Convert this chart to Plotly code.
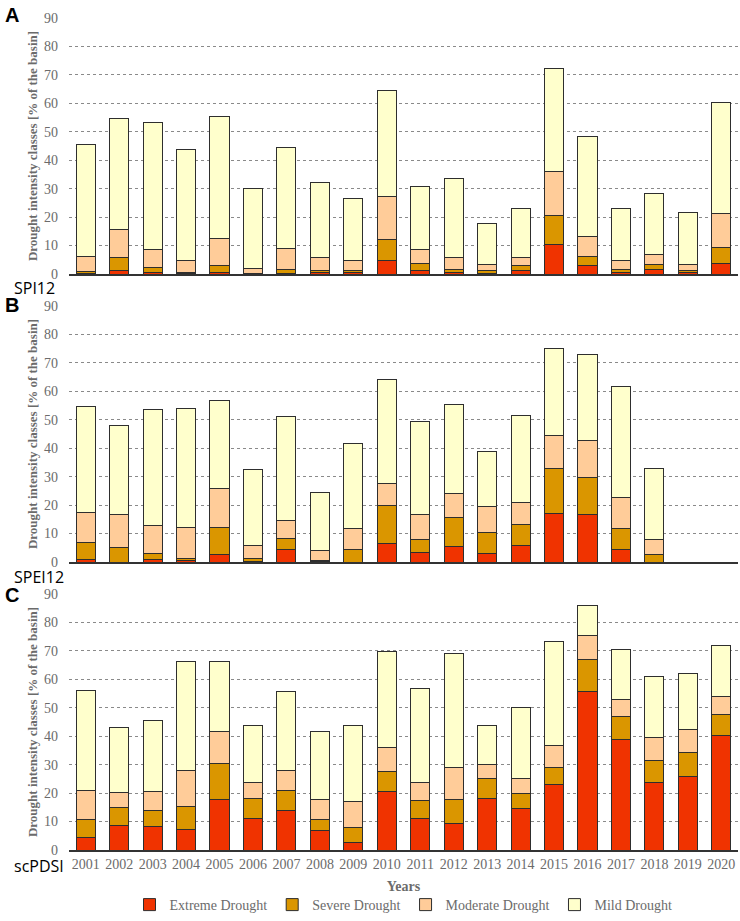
import plotly.graph_objects as go
from plotly.subplots import make_subplots

years = [str(y) for y in range(2001, 2021)]
classes = ["Extreme Drought", "Severe Drought", "Moderate Drought", "Mild Drought"]
colors = ["#F03300", "#DA9600", "#FFCC99", "#FFFFCC"]

# Panel A - SPI12
spi_extreme = [0.3, 1.1, 0.4, 0.2, 0.5, 0.1, 0.3, 0.4, 0.4, 4.8, 1.3, 0.4, 0.3, 1.1, 10.4, 3.1, 0.7, 1.6, 0.7, 3.8]
spi_severe = [0.7, 4.8, 1.9, 0.4, 2.6, 0.2, 1.3, 1.0, 1.0, 7.4, 2.5, 1.2, 1.0, 2.0, 10.1, 3.1, 0.9, 1.8, 0.6, 5.6]
spi_moderate = [5.1, 9.6, 6.2, 4.3, 9.5, 1.7, 7.2, 4.5, 3.2, 15.0, 4.7, 4.3, 2.1, 2.8, 15.7, 7.1, 3.1, 3.5, 2.1, 12.0]
spi_mild = [39.4, 39.3, 44.8, 38.9, 42.7, 28.2, 35.7, 26.1, 22.0, 37.4, 22.3, 27.8, 14.4, 17.0, 36.0, 34.9, 18.4, 21.3, 18.3, 38.9]

# Panel B - SPEI12 (no data for 2019, 2020)
spei_extreme = [0.8, 0.0, 0.8, 0.5, 2.6, 0.1, 4.3, 0.1, 0.0, 6.5, 3.2, 5.3, 2.9, 5.9, 17.0, 16.7, 4.5, 0.0, None, None]
spei_severe = [6.2, 5.0, 2.1, 0.7, 9.7, 1.1, 3.9, 0.4, 4.3, 13.2, 4.8, 10.3, 7.4, 7.4, 15.7, 13.0, 7.2, 2.6, None, None]
spei_moderate = [10.4, 11.8, 10.0, 10.9, 13.4, 4.6, 6.4, 3.7, 7.4, 7.8, 8.8, 8.6, 9.2, 7.7, 11.7, 13.0, 11.0, 5.4, None, None]
spei_mild = [37.2, 31.2, 40.7, 41.9, 31.0, 26.7, 36.5, 20.3, 29.8, 36.6, 32.5, 31.2, 19.3, 30.6, 30.5, 30.2, 38.9, 25.0, None, None]

# Panel C - scPDSI
pdsi_extreme = [4.5, 8.5, 8.2, 7.2, 17.7, 11.2, 13.9, 6.7, 2.8, 20.7, 11.2, 9.4, 18.0, 14.7, 22.9, 55.7, 38.9, 23.6, 26.0, 40.4]
pdsi_severe = [6.3, 6.5, 5.8, 8.1, 12.7, 7.0, 6.9, 3.9, 5.1, 6.9, 6.3, 8.5, 7.0, 5.3, 6.2, 11.2, 8.0, 7.9, 8.2, 7.4]
pdsi_moderate = [10.1, 5.3, 6.7, 12.8, 11.2, 5.7, 7.3, 7.0, 9.0, 8.4, 6.4, 11.2, 5.2, 5.0, 7.6, 8.4, 6.0, 8.1, 8.0, 6.3]
pdsi_mild = [35.2, 22.6, 25.0, 38.3, 24.8, 19.8, 27.6, 24.2, 26.7, 33.9, 33.0, 39.9, 13.6, 25.2, 36.5, 10.6, 17.6, 21.4, 20.0, 17.9]

panels = [
    [spi_extreme, spi_severe, spi_moderate, spi_mild],
    [spei_extreme, spei_severe, spei_moderate, spei_mild],
    [pdsi_extreme, pdsi_severe, pdsi_moderate, pdsi_mild],
]

H = 921.0
W = 740.0
ML, MR = 69, 2
# pixel extents of plot areas (top, bottom)
pix = [(18, 274), (306, 562), (594, 850)]

fig = make_subplots(rows=3, cols=1)

for r, series in enumerate(panels, start=1):
    for name, vals, col in zip(classes, series, colors):
        fig.add_trace(
            go.Bar(
                x=years, y=vals, name=name,
                marker=dict(color=col, line=dict(color="#2e2e2e", width=1)),
                legendgroup=name, showlegend=(r == 1),
            ),
            row=r, col=1,
        )

serif = "Liberation Serif"
gray = "#6b6b6b"

for i, (t, b) in enumerate(pix, start=1):
    yk = "yaxis" if i == 1 else f"yaxis{i}"
    xk = "xaxis" if i == 1 else f"xaxis{i}"
    fig.layout[yk].update(
        domain=[1 - b / H, 1 - t / H],
        range=[0, 90], dtick=10, tick0=0,
        showgrid=True, gridcolor="#8a8a8a", griddash="dot", gridwidth=1,
        zeroline=False, showline=False, ticks="",
        tickfont=dict(family=serif, size=14, color=gray),
        ticklabelstandoff=10, automargin=False,
        title=dict(text="<b>Drought intensity classes [% of the basin]</b>",
                   font=dict(family=serif, size=13, color=gray), standoff=3),
        fixedrange=True,
    )
    fig.layout[xk].update(
        domain=[0, 1],
        showline=True, linecolor="#333333", linewidth=1.5,
        showgrid=False, zeroline=False, ticks="",
        showticklabels=(i == 3), automargin=False,
        tickfont=dict(family=serif, size=14, color=gray),
        type="category",
    )

fig.layout.xaxis3.title = dict(text="<b>Years</b>", font=dict(family=serif, size=14, color=gray), standoff=11)

annos = [
    ("A", 3, 15, "Liberation Sans", 20, True),
    ("B", 3, 305, "Liberation Sans", 20, True),
    ("C", 3, 595, "Liberation Sans", 20, True),
    ("SPI12", 12, 288, "Open Sans", 16, False),
    ("SPEI12", 12, 577, "Open Sans", 16, False),
    ("scPDSI", 12, 866, "Open Sans", 16, False),
]
for text, px, py, fam, sz, bold in annos:
    fig.add_annotation(
        text=f"<b>{text}</b>" if bold else text,
        xref="paper", yref="paper",
        x=(px - ML) / (W - ML - MR), y=1 - py / H,
        xanchor="left", yanchor="middle", showarrow=False,
        font=dict(family=fam, size=sz, color="black"),
    )

fig.update_layout(
    width=740, height=921,
    margin=dict(l=ML, r=MR, t=0, b=0),
    barmode="stack", bargap=0.43,
    plot_bgcolor="white", paper_bgcolor="white",
    legend=dict(
        orientation="h", x=0.5, xanchor="center", y=0.0, yanchor="bottom",
        font=dict(family=serif, size=14, color=gray), itemwidth=30,
        traceorder="normal",
    ),
    showlegend=True,
)

fig.write_html(
    "out.html",
    config={"displayModeBar": False},
    post_script="document.body.style.margin='0';document.body.style.overflow='hidden';",
)
